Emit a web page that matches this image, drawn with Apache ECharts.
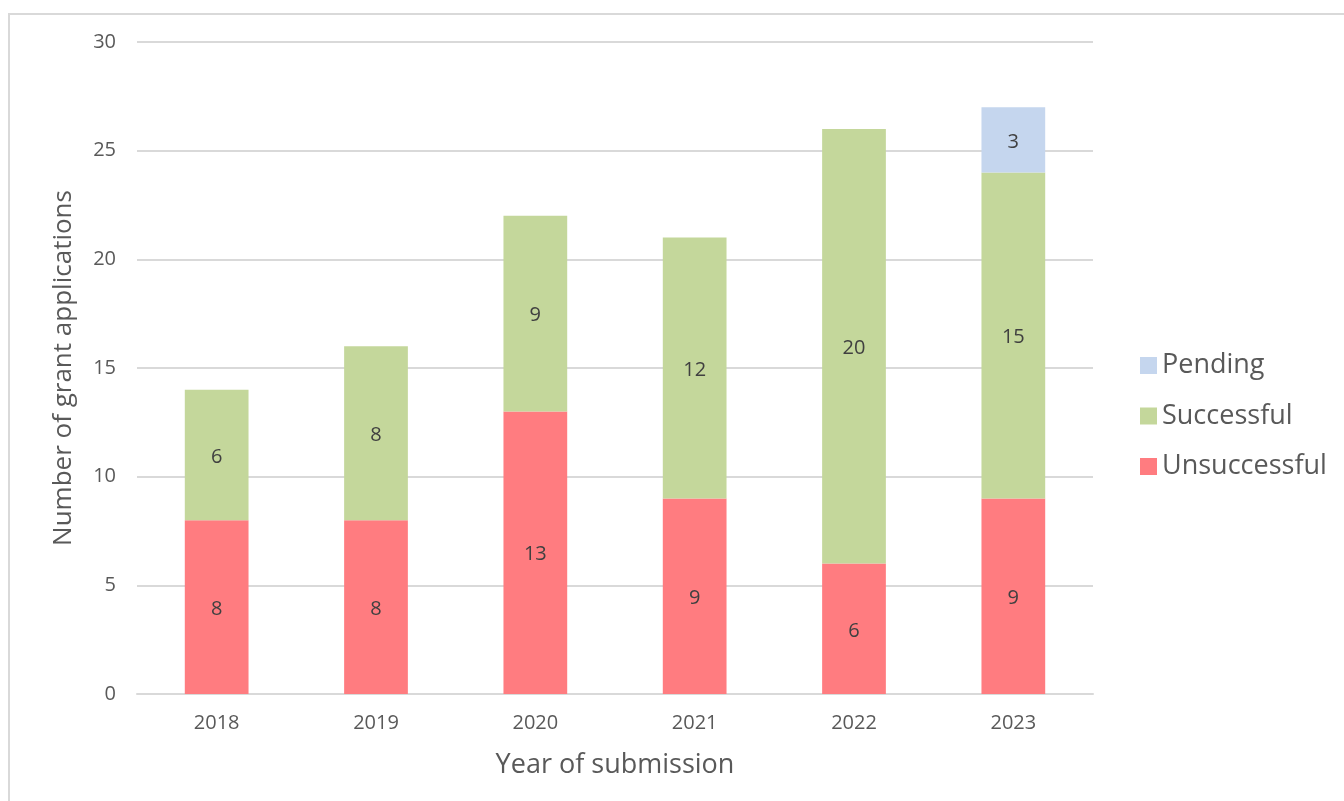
<!DOCTYPE html>
<html><head><meta charset="utf-8">
<script src="https://cdn.jsdelivr.net/npm/echarts@6/dist/echarts.min.js"></script>
<style>html,body{margin:0;padding:0;background:#fff}#c{width:1344px;height:801px}</style>
</head><body><div id="c"></div>
<script>
const years = ['2018','2019','2020','2021','2022','2023'];
const unsuccessful = [8, 8, 13, 9, 6, 9];
const successful = [6, 8, 9, 12, 20, 15];
const pending = [null, null, null, null, null, 3];
const FONT = 'Open Sans';
const chart = echarts.init(document.getElementById('c'));
const lbl = {show:true, position:'inside', color:'#404040', fontSize:20, fontFamily:FONT, offset:[0,2]};
chart.setOption({
  animation:false,
  textStyle:{fontFamily:FONT},
  graphic:[{type:'rect', shape:{x:9,y:14,width:1400,height:900}, style:{fill:'none', stroke:'#d9d9d9', lineWidth:2}, z:-1}],
  grid:{left:137, right:251, top:42, bottom:107},
  legend:{orient:'vertical', left:1135, top:347, itemWidth:17, itemHeight:17, itemGap:23.5,
    icon:'rect', textStyle:{fontSize:27, color:'#595959', fontFamily:FONT, height:27, lineHeight:27},
    data:['Pending','Successful','Unsuccessful']},
  xAxis:{type:'category', data:years, name:'Year of submission', nameLocation:'middle', nameGap:58,
    nameTextStyle:{fontSize:27, color:'#595959', fontFamily:FONT},
    axisLine:{lineStyle:{color:'#d9d9d9', width:2}}, axisTick:{show:false},
    axisLabel:{fontSize:20, color:'#595959', margin:19, fontFamily:FONT}},
  yAxis:{type:'value', min:0, max:30, interval:5, name:'Number of grant applications', nameLocation:'middle', nameGap:60,
    nameTextStyle:{fontSize:26, color:'#595959', fontFamily:FONT},
    axisLine:{show:false}, axisTick:{show:false},
    splitLine:{lineStyle:{color:'#d9d9d9', width:2}},
    axisLabel:{fontSize:20, color:'#595959', margin:21, fontFamily:FONT}},
  series:[
    {name:'Unsuccessful', type:'bar', stack:'a', data:unsuccessful, barWidth:'40%', itemStyle:{color:'#FF7C80'}, label:lbl},
    {name:'Successful', type:'bar', stack:'a', data:successful, itemStyle:{color:'#C4D79B'}, label:lbl},
    {name:'Pending', type:'bar', stack:'a', data:pending, itemStyle:{color:'#C5D6EE'}, label:lbl}
  ]
});
</script></body></html>
